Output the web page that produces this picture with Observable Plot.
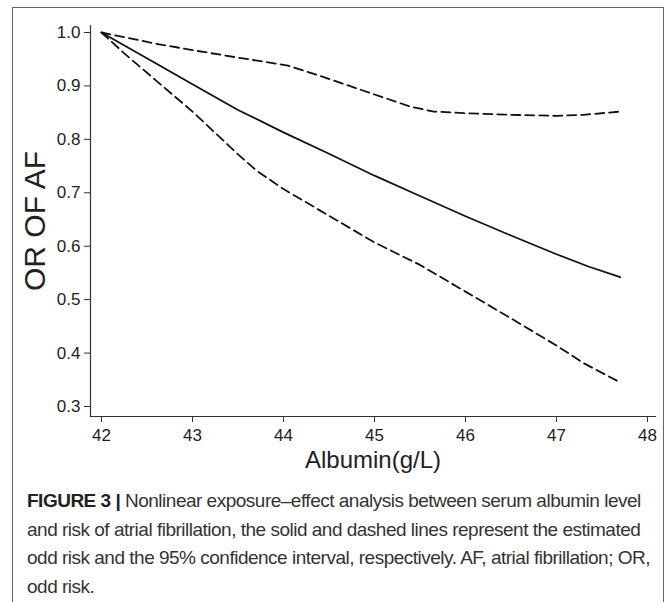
<!DOCTYPE html>
<html>
<head>
<meta charset="utf-8">
<script src="https://cdn.jsdelivr.net/npm/d3@7"></script>
<script src="https://cdn.jsdelivr.net/npm/@observablehq/plot@0.6"></script>
<style>
  body { margin: 0; background: #fff; width: 667px; height: 602px; overflow: hidden; position: relative; font-family: "Liberation Sans", Arial, sans-serif; }
  #frame { position: absolute; left: 12px; top: 7px; width: 652px; height: 620px; border: 1.5px solid #666; box-sizing: border-box; }
  #chart { position: absolute; left: 0; top: 0; }
  #caption { position: absolute; left: 27px; top: 487px; font-family: "Liberation Sans", Arial, sans-serif; font-size: 19px; letter-spacing: -0.5px; line-height: 28.5px; color: #333; white-space: nowrap; }
  #caption b { color: #222; }
</style>
</head>
<body>
<div id="frame"></div>
<div id="chart"></div>
<div id="caption">
<div><b>FIGURE 3 |</b> Nonlinear exposure–effect analysis between serum albumin level</div>
<div>and risk of atrial fibrillation, the solid and dashed lines represent the estimated</div>
<div>odd risk and the 95% confidence interval, respectively. AF, atrial fibrillation; OR,</div>
<div>odd risk.</div>
</div>
<script>
const xTicks = [42, 43, 44, 45, 46, 47, 48];
const yTicks = [0.3, 0.4, 0.5, 0.6, 0.7, 0.8, 0.9, 1.0];

const estAlbumin = [42, 42.6, 43, 43.5, 44, 44.5, 45, 45.5, 46, 46.5, 47, 47.35, 47.7];
const estOR      = [1.0, 0.942, 0.903, 0.855, 0.813, 0.773, 0.732, 0.694, 0.656, 0.62, 0.585, 0.562, 0.542];

const upAlbumin = [42, 42.6, 43, 43.5, 44.05, 44.45, 45, 45.4, 45.65, 46, 46.5, 47, 47.3, 47.7];
const upOR      = [1.0, 0.979, 0.967, 0.953, 0.938, 0.916, 0.884, 0.861, 0.852, 0.849, 0.846, 0.844, 0.846, 0.852];

const loAlbumin = [42, 42.25, 42.6, 43, 43.5, 43.7, 44, 44.5, 45, 45.5, 46, 46.5, 47, 47.3, 47.7];
const loOR      = [1.0, 0.961, 0.91, 0.852, 0.772, 0.742, 0.707, 0.657, 0.607, 0.565, 0.515, 0.465, 0.414, 0.381, 0.345];

const est = estAlbumin.map((x, i) => ({x, y: estOR[i]}));
const up = upAlbumin.map((x, i) => ({x, y: upOR[i]}));
const lo = loAlbumin.map((x, i) => ({x, y: loOR[i]}));

const ink = "#222";
const chart = Plot.plot({
  width: 667,
  height: 480,
  marginLeft: 90,
  marginRight: 12,
  marginTop: 25,
  marginBottom: 64,
  style: { fontFamily: "'Liberation Sans', Arial, sans-serif", color: ink, background: "transparent" },
  x: { domain: [42, 48], insetLeft: 11, insetRight: 8 },
  y: { domain: [0.3, 1.0], insetTop: 7, insetBottom: 10 },
  marks: [
    Plot.frame({ anchor: "left", stroke: "#333", strokeWidth: 1.2 }),
    Plot.frame({ anchor: "bottom", stroke: "#333", strokeWidth: 1.2 }),
    Plot.axisX({ ticks: xTicks, tickSize: 6, tickPadding: 6, fontSize: 17, label: null, tickFormat: d => String(d), stroke: "#333" }),
    Plot.axisY({ ticks: yTicks, tickSize: 6, tickPadding: 4, fontSize: 17, label: null, tickFormat: d3.format(".1f"), stroke: "#333" }),
    Plot.line(up, { x: "x", y: "y", stroke: "#111", strokeWidth: 1.8, strokeDasharray: "9,5" }),
    Plot.line(lo, { x: "x", y: "y", stroke: "#111", strokeWidth: 1.8, strokeDasharray: "9,5" }),
    Plot.line(est, { x: "x", y: "y", stroke: "#111", strokeWidth: 1.8 }),
    Plot.text(["OR OF AF"], { frameAnchor: "left", rotate: -90, dx: -55, fontSize: 30, fill: ink, textAnchor: "middle", lineAnchor: "middle" }),
    Plot.text(["Albumin(g/L)"], { frameAnchor: "bottom", dy: 44, fontSize: 24, fill: ink, textAnchor: "middle", lineAnchor: "middle" })
  ]
});
document.getElementById("chart").appendChild(chart);
</script>
</body>
</html>
